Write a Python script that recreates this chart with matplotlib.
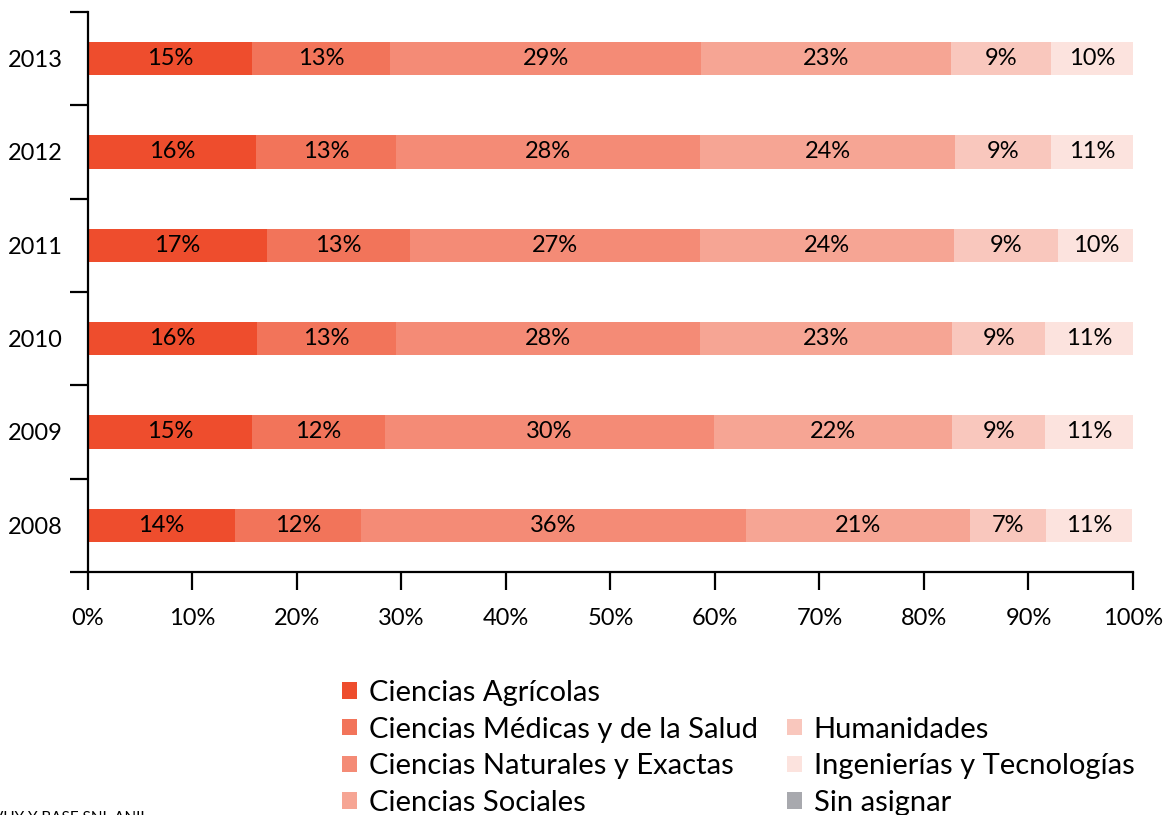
import matplotlib
matplotlib.use("Agg")
import matplotlib.pyplot as plt
from matplotlib.patches import Patch

plt.rcParams["font.family"] = ["Lato", "DejaVu Sans"]

# Years (bottom to top) and areas
years = ["2008", "2009", "2010", "2011", "2012", "2013"]
areas = ["Ciencias Agrícolas", "Ciencias Médicas y de la Salud",
         "Ciencias Naturales y Exactas", "Ciencias Sociales",
         "Humanidades", "Ingenierías y Tecnologías", "Sin asignar"]
colors = ["#EE4D2D", "#F2745A", "#F48B76", "#F6A594",
          "#F9C7BD", "#FCE3DE", "#A8A9AE"]

# Segment widths (share, %), one list per area (2008..2013)
agricolas = [14.1, 15.7, 16.2, 17.1, 16.1, 15.7]
medicas = [12.0, 12.7, 13.3, 13.7, 13.4, 13.2]
naturales = [36.9, 31.5, 29.1, 27.8, 29.1, 29.8]
sociales = [21.4, 22.8, 24.1, 24.3, 24.4, 23.9]
humanidades = [7.3, 8.9, 8.9, 9.9, 9.2, 9.6]
ingenierias = [8.2, 8.4, 8.4, 7.3, 7.8, 7.8]
sin_asignar = [0, 0, 0, 0, 0, 0]

# Printed labels on each segment
lbl_agricolas = ["14%", "15%", "16%", "17%", "16%", "15%"]
lbl_medicas = ["12%", "12%", "13%", "13%", "13%", "13%"]
lbl_naturales = ["36%", "30%", "28%", "27%", "28%", "29%"]
lbl_sociales = ["21%", "22%", "23%", "24%", "24%", "23%"]
lbl_humanidades = ["7%", "9%", "9%", "9%", "9%", "9%"]
lbl_ingenierias = ["11%", "11%", "11%", "10%", "11%", "10%"]

series = [agricolas, medicas, naturales, sociales, humanidades, ingenierias, sin_asignar]
labels = [lbl_agricolas, lbl_medicas, lbl_naturales, lbl_sociales,
          lbl_humanidades, lbl_ingenierias, None]

fig = plt.figure(figsize=(11.65, 8.15), dpi=100)
ax = fig.add_axes([0.0755, 0.2982, 0.897, 0.6871])

ypos = list(range(len(years)))
left = [0.0] * len(years)
for vals, lbls, col in zip(series, labels, colors):
    bars = ax.barh(ypos, vals, left=left, height=0.355, color=col)
    if lbls is not None:
        for b, t in zip(bars, lbls):
            ax.text(b.get_x() + b.get_width() / 2, b.get_y() + b.get_height() / 2,
                    t, ha="center", va="center", fontsize=17, color="black")
    left = [l + v for l, v in zip(left, vals)]

ax.set_xlim(0, 100)
ax.set_ylim(-0.5, len(years) - 0.5)
ax.set_xticks(range(0, 101, 10))
ax.set_xticklabels([f"{x}%" for x in range(0, 101, 10)], fontsize=17)
ax.set_yticks([y - 0.5 for y in range(len(years) + 1)])
ax.set_yticklabels([])
ax.set_yticks(ypos, minor=True)
ax.set_yticklabels(years, minor=True, fontsize=17)
ax.tick_params(axis="y", which="major", direction="out", length=13, width=1.6)
ax.tick_params(axis="y", which="minor", length=0, pad=18)
ax.tick_params(axis="x", direction="out", length=13, width=1.6, pad=13)
for s in ["top", "right"]:
    ax.spines[s].set_visible(False)
for s in ["left", "bottom"]:
    ax.spines[s].set_linewidth(1.6)

# Legend: second column bottom aligned (blank entry at its top)
handles = [Patch(facecolor=c, edgecolor="none") for c in colors]
blank = Patch(facecolor="none", edgecolor="none")
hl = handles[:4] + [blank] + handles[4:]
tl = areas[:4] + [""] + areas[4:]
fig.legend(hl, tl, loc="upper left", bbox_to_anchor=(0.2935, 0.166), ncol=2,
           frameon=False, fontsize=21, handlelength=0.5, handleheight=0.5,
           handletextpad=0.42, labelspacing=0.37, columnspacing=1.0,
           borderaxespad=0, borderpad=0)

fig.text(0.1245, 0.005, "FUENTE: CVUY Y BASE SNI, ANII", ha="right", va="top",
         fontsize=11)

fig.savefig("out.png", dpi=100)
